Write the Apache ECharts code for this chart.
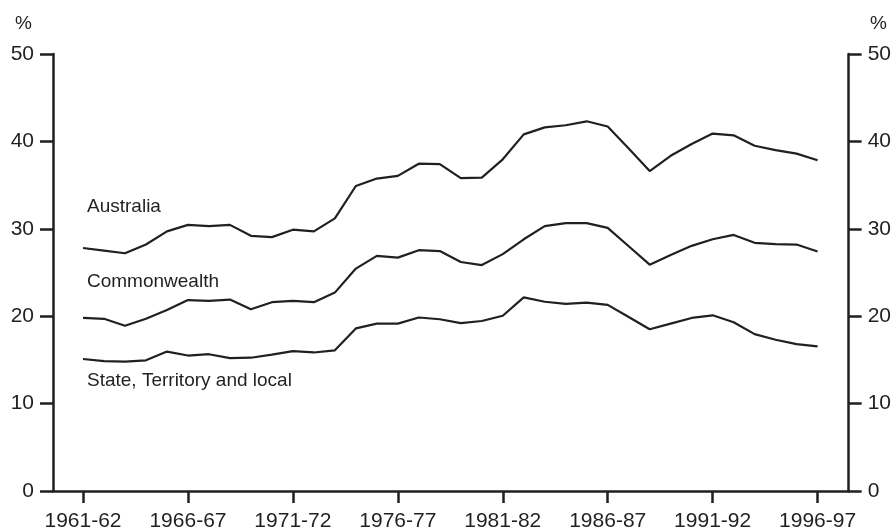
<!DOCTYPE html>
<html>
<head>
<meta charset="utf-8">
<script src="https://cdn.jsdelivr.net/npm/echarts@6/dist/echarts.min.js"></script>
<style>
  html, body { margin: 0; padding: 0; background: #fff; }
  #chart { width: 894px; height: 532px; }
</style>
</head>
<body>
<div id="chart"></div>
<script>
const years = [
  '1961-62', '1962-63', '1963-64', '1964-65', '1965-66', '1966-67', '1967-68', '1968-69',
  '1969-70', '1970-71', '1971-72', '1972-73', '1973-74', '1974-75', '1975-76', '1976-77',
  '1977-78', '1978-79', '1979-80', '1980-81', '1981-82', '1982-83', '1983-84', '1984-85',
  '1985-86', '1986-87', '1987-88', '1988-89', '1989-90', '1990-91', '1991-92', '1992-93',
  '1993-94', '1994-95', '1995-96', '1996-97'
]

const australia = [
  27.8, 27.5, 27.2, 28.2, 29.7, 30.45, 30.3, 30.45, 29.2, 29.05, 29.9, 29.7,
  31.2, 34.9, 35.75, 36.05, 37.45, 37.4, 35.8, 35.85, 37.95, 40.8, 41.6, 41.85,
  42.3, 41.7, 39.2, 36.6, 38.35, 39.7, 40.9, 40.7, 39.5, 39.0, 38.6, 37.85
]

const commonwealth = [
  19.8, 19.7, 18.9, 19.7, 20.7, 21.85, 21.75, 21.9, 20.8, 21.6, 21.75, 21.6,
  22.7, 25.45, 26.9, 26.7, 27.55, 27.45, 26.2, 25.85, 27.1, 28.8, 30.3, 30.65,
  30.65, 30.1, 28.0, 25.9, 27.0, 28.05, 28.8, 29.3, 28.4, 28.25, 28.2, 27.4
]

const stateLocal = [
  15.1, 14.85, 14.8, 14.95, 15.95, 15.5, 15.65, 15.2, 15.25, 15.6, 16.0, 15.85,
  16.1, 18.6, 19.15, 19.15, 19.85, 19.65, 19.2, 19.45, 20.05, 22.15, 21.65, 21.4,
  21.55, 21.3, 19.9, 18.5, 19.15, 19.8, 20.1, 19.3, 17.95, 17.3, 16.8, 16.55
]

const labelTicks = [0, 5, 10, 15, 20, 25, 30, 35]

const ink = '#231f20'
const font = 'Liberation Sans, Arial, sans-serif'

const toPairs = (arr) => arr.map((v, i) => [i, v])

const lineSeries = (name, data) => ({
  name,
  type: 'line',
  data: toPairs(data),
  showSymbol: false,
  lineStyle: { color: ink, width: 2.2 },
  animation: false
})

const yAxisCommon = {
  type: 'value',
  min: 0,
  max: 50,
  interval: 10,
  splitLine: { show: false },
  axisLine: { show: true, onZero: false, lineStyle: { color: ink, width: 2.5 } },
  axisTick: { show: true, length: 13, lineStyle: { color: ink, width: 2.5 } },
  axisLabel: { color: ink, fontSize: 21, fontFamily: font, margin: 19 }
}

const chart = echarts.init(document.getElementById('chart'))

chart.setOption({
  backgroundColor: '#fff',
  grid: { left: 53, right: 45, top: 54, bottom: 37, containLabel: false },
  xAxis: {
    type: 'value',
    min: -1.43,
    max: 36.48,
    splitLine: { show: false },
    axisLine: { show: true, onZero: false, lineStyle: { color: ink, width: 2.5 } },
    axisTick: {
      show: true,
      length: 12,
      customValues: labelTicks,
      lineStyle: { color: ink, width: 2.5 }
    },
    axisLabel: {
      color: ink,
      fontSize: 21,
      fontFamily: font,
      margin: 20,
      customValues: labelTicks,
      formatter: (v) => years[Math.round(v)]
    }
  },
  yAxis: [
    Object.assign({}, yAxisCommon, { position: 'left' }),
    Object.assign({}, yAxisCommon, { position: 'right' })
  ],
  series: [
    lineSeries('Australia', australia),
    lineSeries('Commonwealth', commonwealth),
    lineSeries('State, Territory and local', stateLocal)
  ],
  graphic: [
    { type: 'text', left: 15, top: 14, style: { text: '%', fill: ink, font: '19px ' + font } },
    { type: 'text', left: 870, top: 14, style: { text: '%', fill: ink, font: '19px ' + font } },
    { type: 'text', left: 87, top: 197, style: { text: 'Australia', fill: ink, font: '19px ' + font } },
    { type: 'text', left: 87, top: 272, style: { text: 'Commonwealth', fill: ink, font: '19px ' + font } },
    { type: 'text', left: 87, top: 371, style: { text: 'State, Territory and local', fill: ink, font: '19px ' + font } }
  ]
})
</script>
</body>
</html>
